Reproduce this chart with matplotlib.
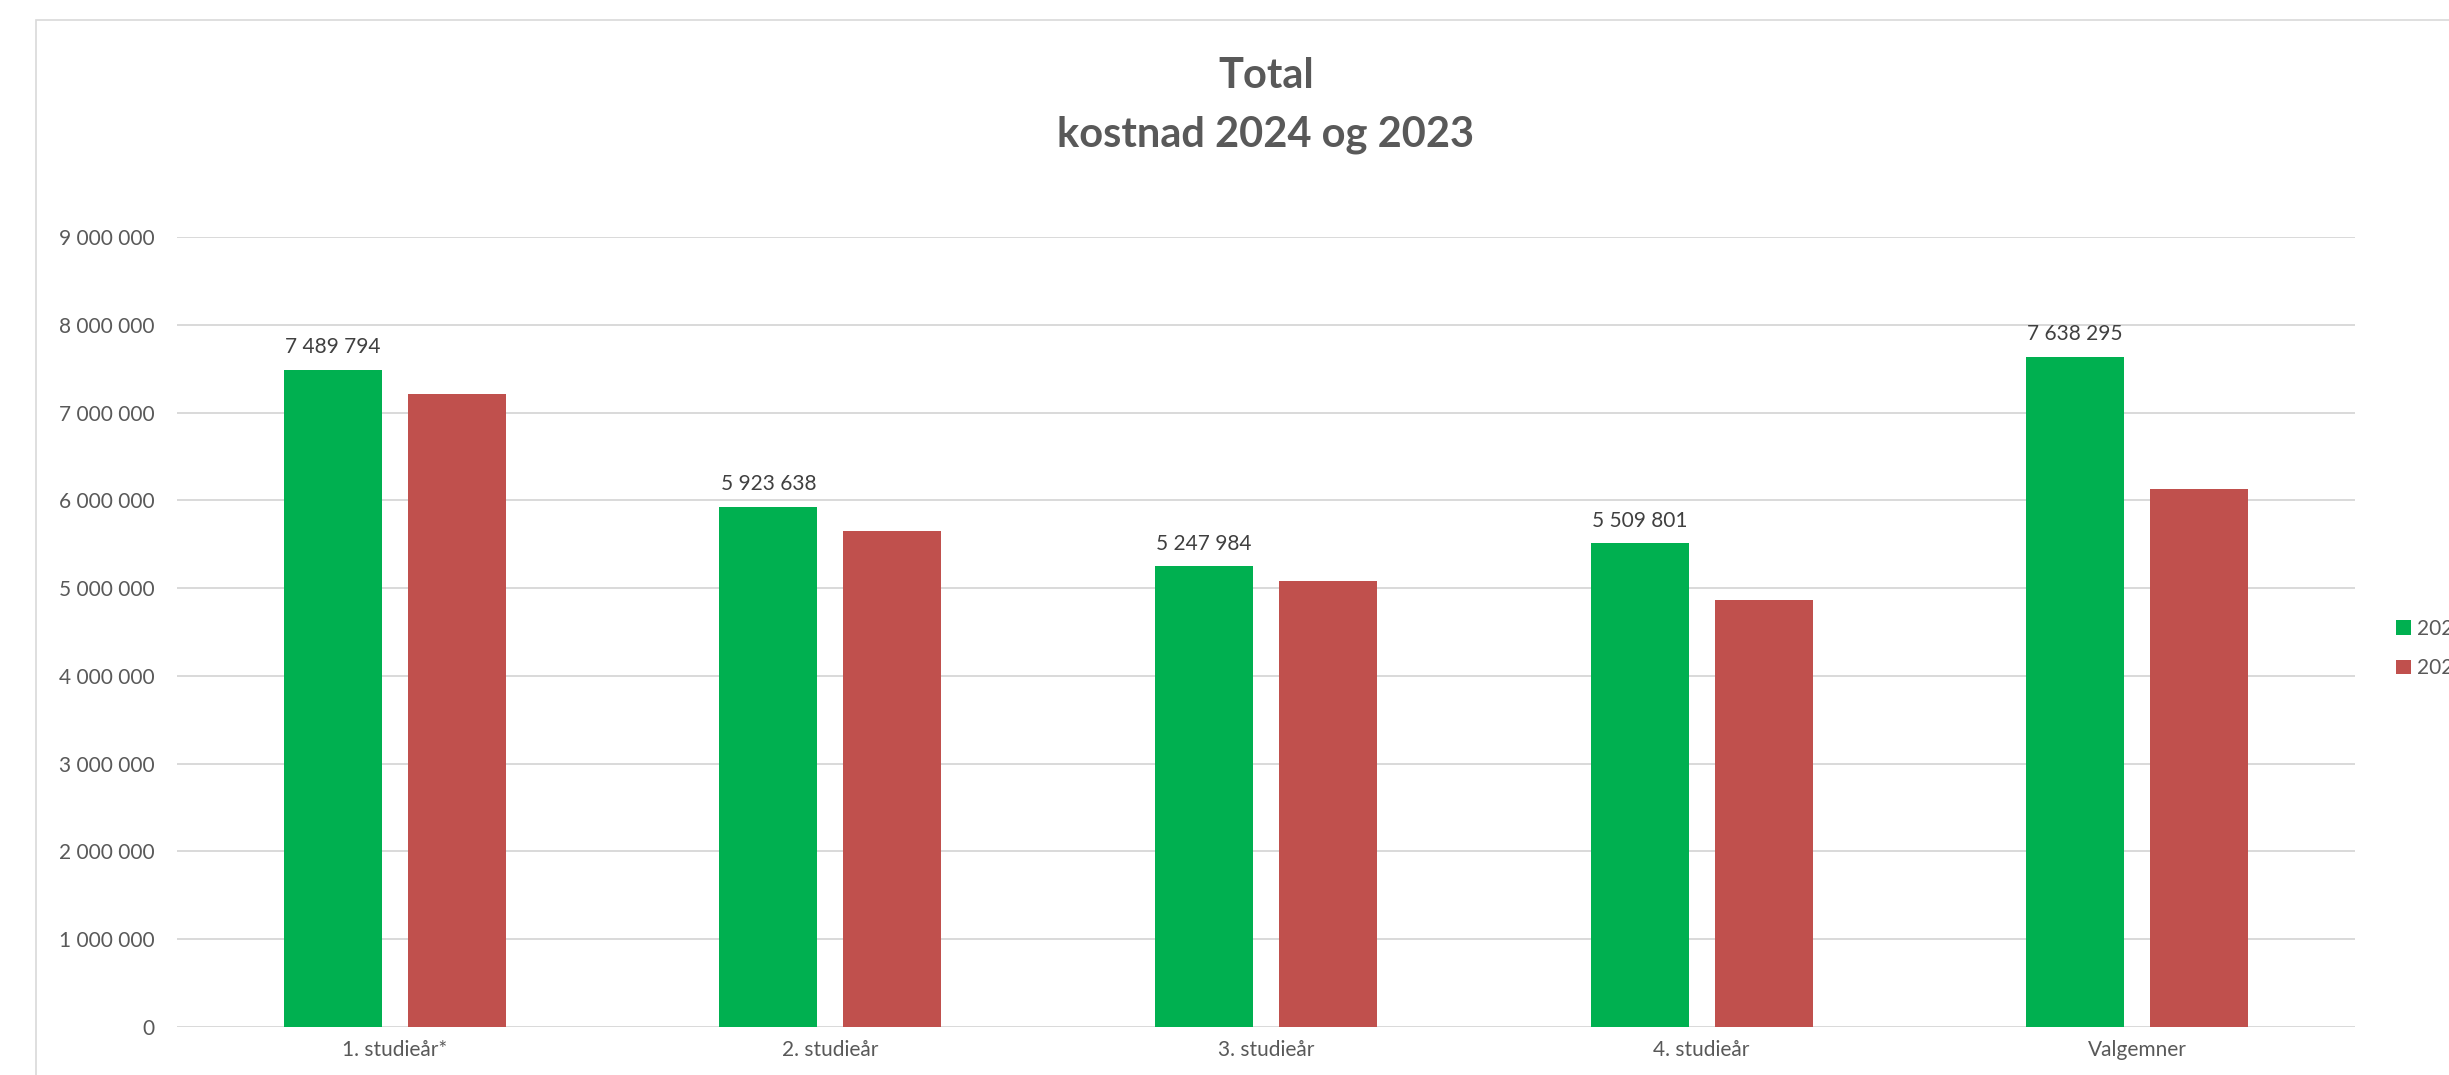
import matplotlib
matplotlib.use("Agg")
import matplotlib.pyplot as plt
import numpy as np
from matplotlib.ticker import FuncFormatter, MultipleLocator
from matplotlib.patches import Rectangle

plt.rcParams['font.family'] = ['Lato', 'DejaVu Sans']

categories = ["1. studieår*", "2. studieår", "3. studieår", "4. studieår", "Valgemner"]
series_names = ["2024", "2023"]
values_2024 = [7489794, 5923638, 5247984, 5509801, 7638295]
values_2023 = [7208000, 5646000, 5076000, 4867000, 6130000]
title_lines = ["Total", "kostnad 2024 og 2023"]

W, H = 2449, 1075
fig = plt.figure(figsize=(W / 100, H / 100), dpi=100)
fig.patch.set_facecolor("white")

# chart area border (cropped on the right/bottom)
fig.add_artist(Rectangle((36 / W, -0.1), 1.2, 1 - 20 / H + 0.1, transform=fig.transFigure,
                         fill=False, edgecolor="#D9D9D9", linewidth=1.2))

ax = fig.add_axes([177 / W, 1 - 1027 / H, (2355 - 177) / W, (1027 - 237) / H])
x = np.arange(len(categories))
bw = 0.225
off = 0.1424
green, red = "#00B050", "#C0504D"
b1 = ax.bar(x - off, values_2024, bw, color=green, label=series_names[0], zorder=3)
b2 = ax.bar(x + off, values_2023, bw, color=red, label=series_names[1], zorder=3)

ax.set_xlim(-0.5, len(categories) - 0.5)
ax.set_ylim(0, 9000000)
ax.yaxis.set_major_locator(MultipleLocator(1000000))
ax.yaxis.set_major_formatter(FuncFormatter(lambda v, p: f"{int(v):,}".replace(",", " ")))
ax.grid(axis="y", color="#D9D9D9", linewidth=1.4, zorder=0)
ax.set_axisbelow(True)
for s in ax.spines.values():
    s.set_visible(False)
ax.set_xticks(x)
ax.set_xticklabels(categories)
ax.tick_params(axis="x", length=0, pad=9, labelsize=15, labelcolor="#595959")
ax.tick_params(axis="y", length=0, pad=16, labelsize=15, labelcolor="#595959")

for rect, v in zip(b1, values_2024):
    ax.annotate(f"{v:,}".replace(",", " "), (rect.get_x() + rect.get_width() / 2, v),
                xytext=(0, 12), textcoords="offset points", ha="center", va="baseline",
                fontsize=15, color="#404040")

fig.text(1266 / W, 1 - 88 / H, title_lines[0], ha="center", va="baseline",
         fontsize=30, fontweight="bold", color="#595959")
fig.text(1266 / W, 1 - 147 / H, title_lines[1], ha="center", va="baseline",
         fontsize=30, fontweight="bold", color="#595959")

leg = ax.legend(loc="center left", bbox_to_anchor=(2396 / W, 1 - 648.5 / H),
                bbox_transform=fig.transFigure, frameon=False, fontsize=15,
                handlelength=0.7, handleheight=0.7, handletextpad=0.3,
                labelspacing=0.95, borderpad=0, borderaxespad=0)
for t in leg.get_texts():
    t.set_color("#595959")

fig.savefig("out.png", dpi=100)
